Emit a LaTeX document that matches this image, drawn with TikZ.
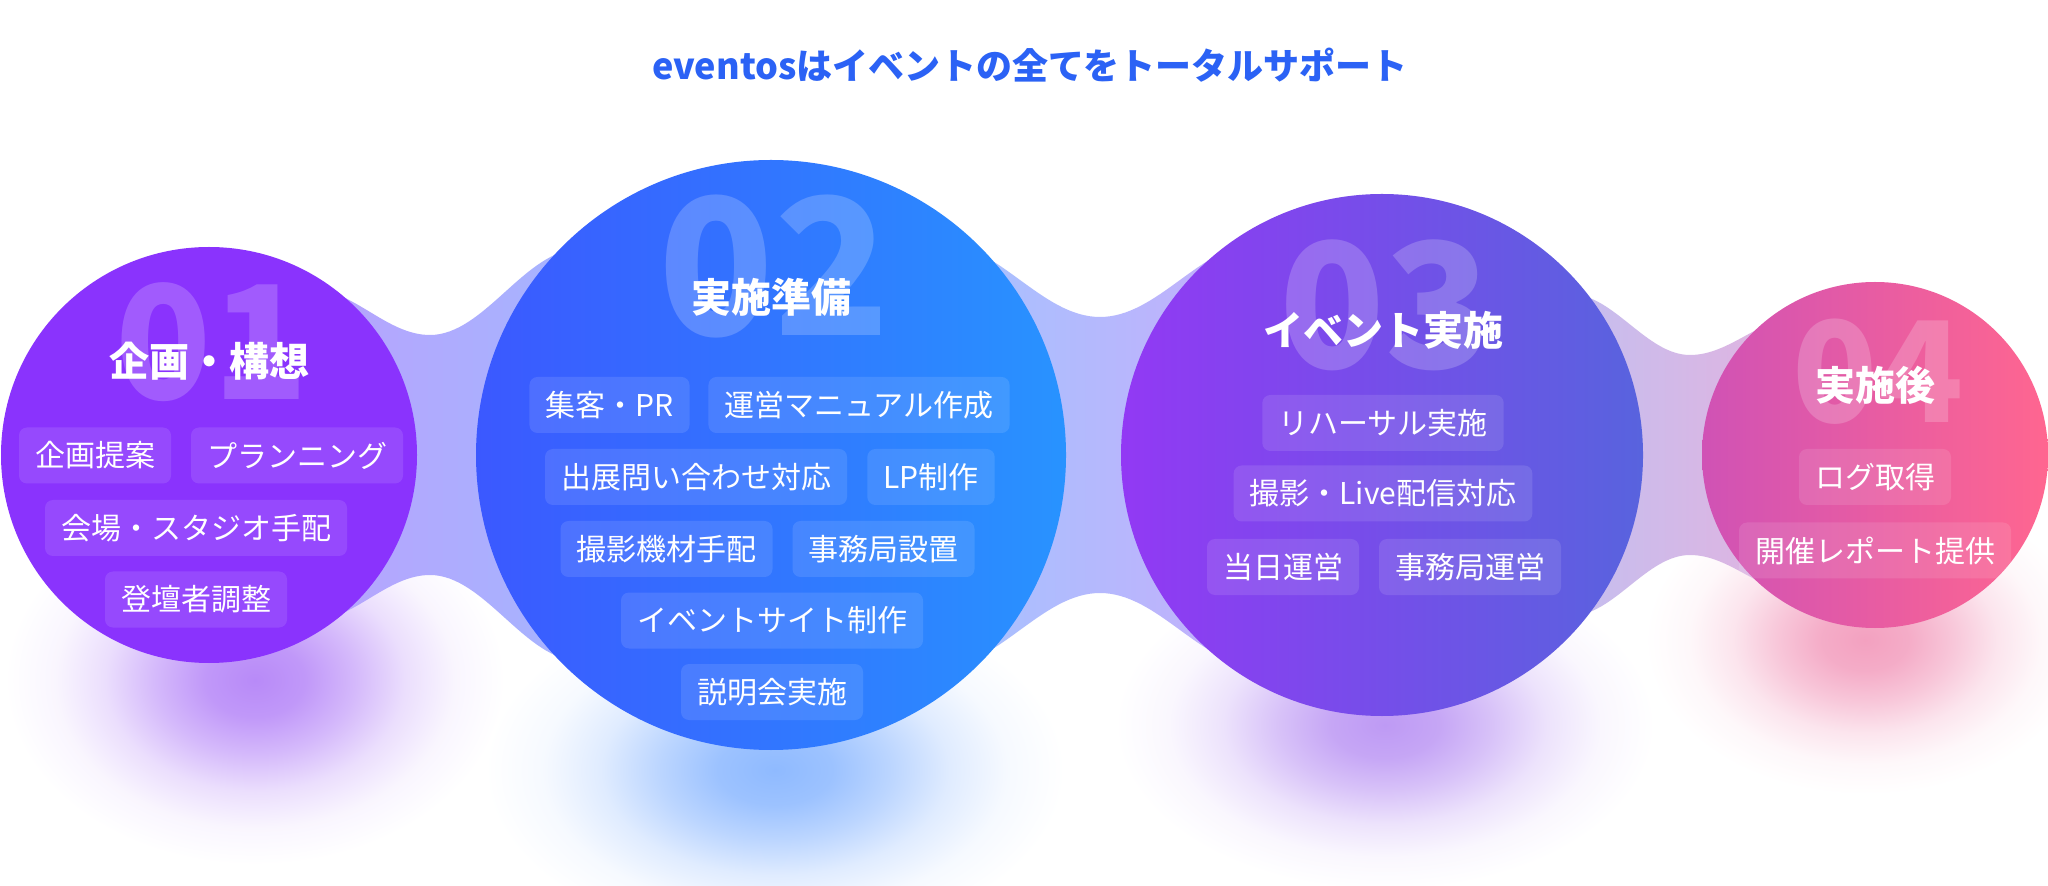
\documentclass[tikz,border=0pt]{standalone}
\usepackage{fontspec}
\setmainfont{Noto Sans CJK JP}
\definecolor{mainblue}{HTML}{2B62F5}
\definecolor{cA}{HTML}{8A33FD}
\definecolor{cBl}{HTML}{3B58FF}
\definecolor{cBr}{HTML}{2893FF}
\definecolor{cCl}{HTML}{9239F4}
\definecolor{cCr}{HTML}{5863DE}
\definecolor{cDl}{HTML}{D052B5}
\definecolor{cDr}{HTML}{FF6690}
\definecolor{bAl}{HTML}{B8A2FD}
\definecolor{bAr}{HTML}{A4B6FF}
\definecolor{bBl}{HTML}{A5C3FF}
\definecolor{bBr}{HTML}{C5AEFB}
\definecolor{bCl}{HTML}{C5BEEF}
\definecolor{bCr}{HTML}{E3B3DF}
\definecolor{gA}{HTML}{B88AF8}
\definecolor{gB}{HTML}{8FBAFF}
\definecolor{gC}{HTML}{BE9AF4}
\definecolor{gD}{HTML}{F3A1C0}
\pgfdeclareradialshading{glowA}{\pgfpointorigin}{color(0bp)=(gA); color(5bp)=(gA!88!white); color(10bp)=(gA!60!white); color(15bp)=(gA!28!white); color(20bp)=(gA!8!white); color(25bp)=(white); color(50bp)=(white)}
\pgfdeclareradialshading{glowB}{\pgfpointorigin}{color(0bp)=(gB); color(5bp)=(gB!88!white); color(10bp)=(gB!60!white); color(15bp)=(gB!28!white); color(20bp)=(gB!8!white); color(25bp)=(white); color(50bp)=(white)}
\pgfdeclareradialshading{glowC}{\pgfpointorigin}{color(0bp)=(gC); color(5bp)=(gC!88!white); color(10bp)=(gC!60!white); color(15bp)=(gC!28!white); color(20bp)=(gC!8!white); color(25bp)=(white); color(50bp)=(white)}
\pgfdeclareradialshading{glowD}{\pgfpointorigin}{color(0bp)=(gD); color(5bp)=(gD!88!white); color(10bp)=(gD!60!white); color(15bp)=(gD!28!white); color(20bp)=(gD!8!white); color(25bp)=(white); color(50bp)=(white)}
\tikzset{
  circ/.style={circle, inner sep=0pt, outer sep=0pt},
  tag/.style={fill=white, fill opacity=0.11, text opacity=1, text=white, rounded corners=4pt,
    inner xsep=8pt, inner ysep=0pt, minimum height=28pt, font=\fontsize{15pt}{18pt}\selectfont},
  ttl/.style={text=white, inner sep=0pt, font=\bfseries\fontsize{20pt}{24pt}\selectfont},
  num/.style={text=white, text opacity=0.2, anchor=base, inner sep=0pt}
}
\begin{document}
\begin{tikzpicture}[x=0.5pt,y=-0.5pt]
\useasboundingbox[fill=white] (0,0) rectangle (2048,886);
% glows
\shade[shading=glowA] (255,680) ellipse [x radius=250, y radius=185];
\shade[shading=glowB] (775,770) ellipse [x radius=290, y radius=175];
\shade[shading=glowC] (1385,725) ellipse [x radius=270, y radius=165];
\shade[shading=glowD] (1865,640) ellipse [x radius=220, y radius=155];
% bridges
\shade[left color=bAl, right color=bAr] (300,455) -- (310,289) .. controls (353.7,289) and (386.3,335) .. (430,335) .. controls (484.6,335) and (525.4,249) .. (580,249) -- (600,455) -- (580,661) .. controls (525.4,661) and (484.6,575) .. (430,575) .. controls (386.3,575) and (353.7,621) .. (310,621) -- cycle;
\shade[left color=bBl, right color=bBr] (960,455) -- (940,243) .. controls (998.3,243) and (1041.7,317) .. (1100,317) .. controls (1158.3,317) and (1201.7,243) .. (1260,243) -- (1240,455) -- (1260,667) .. controls (1201.7,667) and (1158.3,593) .. (1100,593) .. controls (1041.7,593) and (998.3,667) .. (940,667) -- cycle;
\shade[left color=bCl, right color=bCr] (1590,455) -- (1570,294) .. controls (1613.7,294) and (1646.3,355) .. (1690,355) .. controls (1730.1,355) and (1759.9,317) .. (1800,317) -- (1780,455) -- (1800,593) .. controls (1759.9,593) and (1730.1,555) .. (1690,555) .. controls (1646.3,555) and (1613.7,616) .. (1570,616) -- cycle;
% circles
\node[circ, fill=cA, minimum size=208pt] (c1) at (209,455) {};
\node[circ, left color=cBl, right color=cBr, minimum size=295pt] (c2) at (771,455) {};
\node[circ, left color=cCl, right color=cCr, minimum size=261pt] (c3) at (1382,455) {};
\node[circ, left color=cDl, right color=cDr, minimum size=173pt] (c4) at (1875,455) {};
% heading
\node[text=mainblue, font=\bfseries\fontsize{18pt}{22pt}\selectfont] (hd) at (1030,65) {eventosはイベントの全てをトータルサポート};
% numbers
\node[num, font=\bfseries\fontsize{79pt}{80pt}\selectfont] (n1) at (212,400) {01};
\node[num, font=\bfseries\fontsize{95pt}{96pt}\selectfont] (n2) at (774,336) {02};
\node[num, font=\bfseries\fontsize{87pt}{88pt}\selectfont] (n3) at (1385,369) {03};
\node[num, font=\bfseries\fontsize{70pt}{71pt}\selectfont] (n4) at (1878,423) {04};
% titles
\node[ttl] (h1) at (209,361) {企画・構想};
\node[ttl] (h2) at (771,297) {実施準備};
\node[ttl] (h3) at (1383,330) {イベント実施};
\node[ttl] (h4) at (1875,385) {実施後};
% tags circle 1
\node[tag] (t11) at (95,455.5) {企画提案};
\node[tag] (t12) at (297,455.5) {プランニング};
\node[tag] (t13) at (196,528) {会場・スタジオ手配};
\node[tag] (t14) at (196,599.5) {登壇者調整};
% tags circle 2
\node[tag] (t21) at (609.5,405) {集客・PR};
\node[tag] (t22) at (859,405) {運営マニュアル作成};
\node[tag] (t23) at (696,477) {出展問い合わせ対応};
\node[tag] (t24) at (931,477) {LP制作};
\node[tag] (t25) at (666.5,549) {撮影機材手配};
\node[tag] (t26) at (883.5,549) {事務局設置};
\node[tag] (t27) at (772,620.5) {イベントサイト制作};
\node[tag] (t28) at (772,692) {説明会実施};
% tags circle 3
\node[tag] (t31) at (1383,423) {リハーサル実施};
\node[tag] (t32) at (1383,493.5) {撮影・Live配信対応};
\node[tag] (t33) at (1283,567) {当日運営};
\node[tag] (t34) at (1470,567) {事務局運営};
% tags circle 4
\node[tag] (t41) at (1875,477) {ログ取得};
\node[tag] (t42) at (1875,550.5) {開催レポート提供};
\end{tikzpicture}
\end{document}
